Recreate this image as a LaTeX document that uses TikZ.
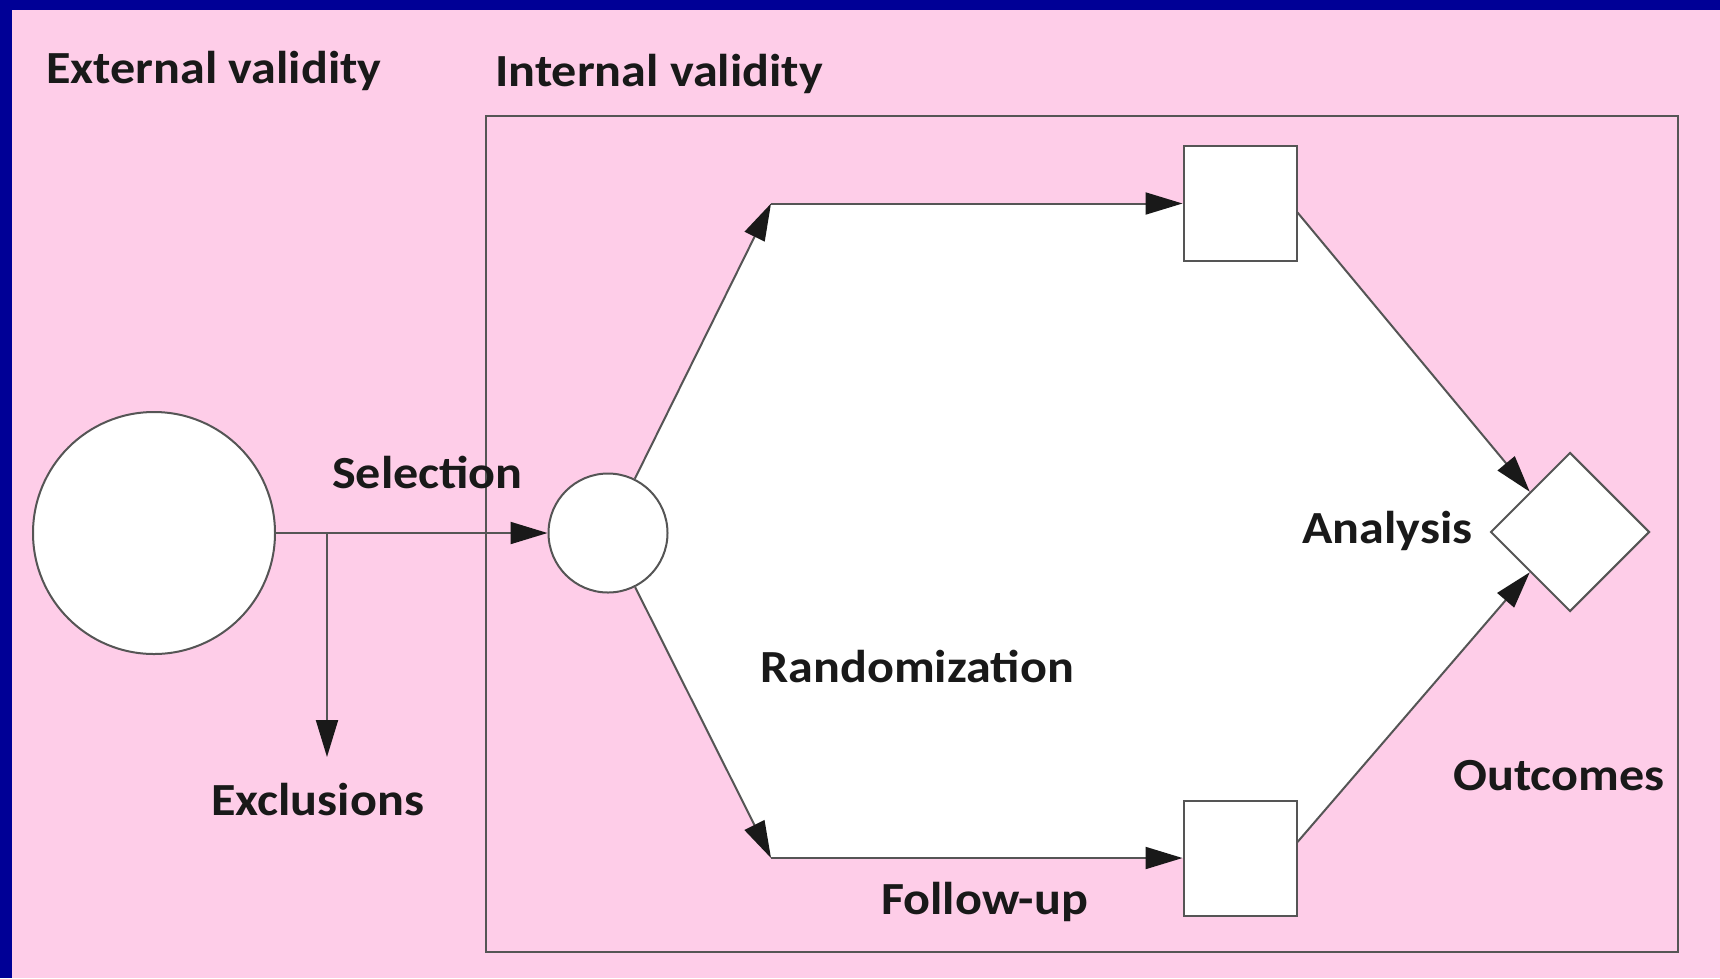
\documentclass[tikz,border=0pt]{standalone}
\usepackage{fontspec}
\setmainfont{Carlito}[FakeStretch=1.09]
\usetikzlibrary{shapes.geometric,arrows.meta}
\definecolor{bgpink}{RGB}{254,205,232}
\definecolor{frameblue}{RGB}{0,0,150}
\definecolor{linegray}{RGB}{85,85,85}
\begin{document}
\begin{tikzpicture}[x=1pt,y=-1pt,
  conn/.style={draw=linegray, line width=2pt},
  arr/.style={conn, -{Triangle[length=37pt,width=22pt,color=black!90]}},
  lbl/.style={font=\fontsize{46}{54}\selectfont\bfseries, anchor=base west, inner sep=0pt, text=black!90},
  shapebox/.style={draw=linegray, line width=2pt, fill=white, inner sep=0pt}
]
\useasboundingbox (0,0) rectangle (1720,978);
% background and frame
\fill[frameblue] (0,0) rectangle (1720,978);
\fill[bgpink] (12,10) rectangle (1720,978);
% white region of the trial
\fill[white] (608,533) -- (771,203.5) -- (1297,203.5) -- (1297,213) -- (1530,493)
  -- (1570,532) -- (1530,572) -- (1297,842) -- (1297,858) -- (771,858) -- cycle;
% internal validity frame
\draw[conn] (486,116) rectangle (1678,952);
% nodes
\node[circle, shapebox, minimum size=242pt] (pop) at (154,533) {};
\node[circle, shapebox, minimum size=119pt] (sample) at (608,533) {};
\node[rectangle, shapebox, minimum width=113pt, minimum height=115pt] (armA) at (1240,203.5) {};
\node[rectangle, shapebox, minimum width=113pt, minimum height=115pt] (armB) at (1240,858) {};
\node[diamond, shapebox, minimum width=159pt, minimum height=159pt] (anal) at (1570,532) {};
\coordinate (up) at (771,203.5);
\coordinate (lo) at (771,858);
\coordinate (split) at (327,533);
\coordinate (exc) at (327,757);
% connectors
\draw[arr] (pop) -- (sample);
\draw[arr] (split) -- (exc);
\draw[arr] (sample) -- (up);
\draw[arr] (up) -- (armA);
\draw[arr] (sample) -- (lo);
\draw[arr] (lo) -- (armB);
\draw[arr] ([yshift=-9pt]armA.east) -- (anal.north west);
\draw[arr] ([yshift=16pt]armB.east) -- (anal.south west);
% labels
\node[lbl] (extv) at (46,83) {External validity};
\node[lbl] (intv) at (495,86) {Internal validity};
\node[lbl] (sel) at (332,488) {Selection};
\node[lbl] (excl) at (211,815) {Exclusions};
\node[lbl] (rand) at (760,682) {Randomization};
\node[lbl] (ana) at (1302,543) {Analysis};
\node[lbl] (outc) at (1453,790) {Outcomes};
\node[lbl] (fol) at (881,914) {Follow-up};
\end{tikzpicture}
\end{document}
